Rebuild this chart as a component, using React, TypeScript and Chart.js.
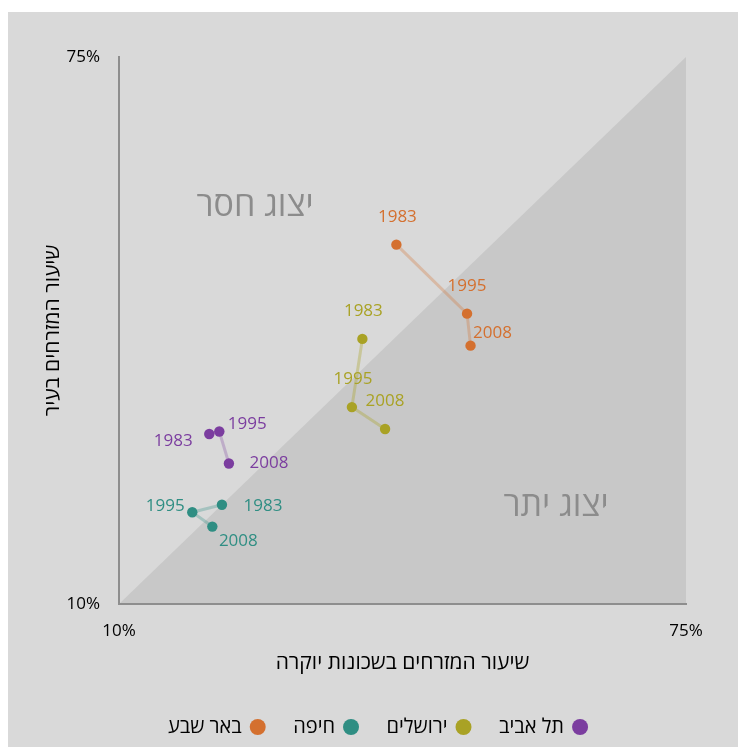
import React, { useEffect, useRef } from "react";
import { Chart, registerables } from "chart.js";

Chart.register(...registerables);

// ---------- data ----------
const years = ["1983", "1995", "2008"];
const cities = ["תל אביב", "ירושלים", "חיפה", "באר שבע"];

const telAvivX = [20.35, 21.5, 22.6];
const telAvivY = [30.2, 30.5, 26.7];
const jerusalemX = [37.9, 36.7, 40.5];
const jerusalemY = [41.5, 33.4, 30.8];
const haifaX = [21.8, 18.4, 20.7];
const haifaY = [21.8, 20.9, 19.2];
const beershevaX = [41.8, 49.9, 50.3];
const beershevaY = [52.7, 44.5, 40.7];

const axisMin = 10;
const axisMax = 75;
const tickValues = [10, 75];

const xTitle = "שיעור המזרחים בשכונות יוקרה";
const yTitle = "שיעור המזרחים בעיר";

const regionLabels = ["יצוג חסר", "יצוג יתר"];
const regionLabelX = [25.6, 60.1];
const regionLabelY = [57.3, 21.6];

// ---------- styles ----------
const cityColors = ["#7b3d9f", "#a9a225", "#2f8e83", "#d4702f"];
const cityLineColors = [
  "rgba(123,61,159,0.28)",
  "rgba(169,162,37,0.35)",
  "rgba(47,142,131,0.3)",
  "rgba(212,112,47,0.3)",
];
// year label offsets in pixels relative to each point [dx, dy]
const labelOffsets: number[][][] = [
  [[-36, 7], [28, -7], [40, 0]],
  [[1, -28], [1, -28], [0, -28]],
  [[41, 1], [-27, -6], [26, 15]],
  [[1, -28], [0, -28], [22, -12]],
];

const FONT = "'Open Sans', 'DejaVu Sans', sans-serif";

const xsList = [telAvivX, jerusalemX, haifaX, beershevaX];
const ysList = [telAvivY, jerusalemY, haifaY, beershevaY];

const bgPlugin = {
  id: "diagBg",
  beforeDraw(chart: any) {
    const { ctx, scales } = chart;
    const x = scales.x;
    const y = scales.y;
    ctx.save();
    ctx.fillStyle = "#c8c8c8";
    ctx.beginPath();
    ctx.moveTo(x.getPixelForValue(axisMin), y.getPixelForValue(axisMin));
    ctx.lineTo(x.getPixelForValue(axisMax), y.getPixelForValue(axisMax));
    ctx.lineTo(x.getPixelForValue(axisMax), y.getPixelForValue(axisMin));
    ctx.closePath();
    ctx.fill();
    ctx.fillStyle = "#8c8c8c";
    ctx.font = `34px ${FONT}`;
    ctx.textAlign = "center";
    ctx.textBaseline = "middle";
    regionLabels.forEach((t, i) => {
      ctx.fillText(t, x.getPixelForValue(regionLabelX[i]), y.getPixelForValue(regionLabelY[i]));
    });
    ctx.restore();
  },
};

const yearLabelPlugin = {
  id: "yearLabels",
  afterDatasetsDraw(chart: any) {
    const { ctx } = chart;
    ctx.save();
    ctx.font = `17px ${FONT}`;
    ctx.textAlign = "center";
    ctx.textBaseline = "middle";
    chart.data.datasets.forEach((ds: any, di: number) => {
      const meta = chart.getDatasetMeta(di);
      ctx.fillStyle = cityColors[di];
      meta.data.forEach((pt: any, pi: number) => {
        const off = labelOffsets[di][pi];
        ctx.fillText(years[pi], pt.x + off[0], pt.y + off[1]);
      });
    });
    ctx.restore();
  },
};

export default function App() {
  const ref = useRef<HTMLCanvasElement | null>(null);

  useEffect(() => {
    if (!ref.current) return;
    const datasets = cities.map((name, i) => ({
      label: name,
      data: xsList[i].map((xv, j) => ({ x: xv, y: ysList[i][j] })),
      showLine: true,
      borderColor: cityLineColors[i],
      borderWidth: 3,
      backgroundColor: cityColors[i],
      pointBackgroundColor: cityColors[i],
      pointBorderColor: cityColors[i],
      pointBorderWidth: 0,
      pointRadius: 5.2,
      pointHoverRadius: 5.2,
      tension: 0,
    }));

    const chart = new Chart(ref.current, {
      type: "scatter",
      data: { datasets },
      plugins: [bgPlugin, yearLabelPlugin],
      options: {
        animation: false,
        responsive: false,
        devicePixelRatio: 1,
        font: { family: FONT },
        layout: { padding: { top: 45, right: 0, bottom: 0, left: 8 } },
        plugins: {
          tooltip: { enabled: false },
          legend: {
            position: "bottom",
            rtl: true,
            textDirection: "rtl",
            labels: {
              usePointStyle: true,
              pointStyle: "circle",
              boxWidth: 12,
              boxHeight: 11.3,
              padding: 29.5,
              color: "#000",
              font: { size: 20, family: FONT },
            },
          },
        },
        scales: {
          x: {
            type: "linear",
            min: axisMin,
            max: axisMax,
            grid: { display: false, drawTicks: false },
            border: { display: true, color: "#8e8e8e", width: 2 },
            afterBuildTicks: (s: any) => {
              s.ticks = tickValues.map((v) => ({ value: v }));
            },
            afterFit: (s: any) => {
              s.height = 83.5;
            },
            ticks: {
              padding: 17,
              color: "#000",
              font: { size: 17, family: FONT },
              maxRotation: 0,
              callback: (v: any) => `${v}%`,
            },
            title: {
              display: true,
              text: xTitle,
              color: "#000",
              font: { size: 21, family: FONT },
              padding: { top: 0, bottom: 11.9 },
            },
          },
          y: {
            type: "linear",
            min: axisMin,
            max: axisMax,
            grid: { display: false, drawTicks: false },
            border: { display: true, color: "#8e8e8e", width: 2 },
            afterBuildTicks: (s: any) => {
              s.ticks = tickValues.map((v) => ({ value: v }));
            },
            afterFit: (s: any) => {
              s.width = 103;
            },
            ticks: {
              padding: 19,
              color: "#000",
              font: { size: 17, family: FONT },
              callback: (v: any) => `${v}%`,
            },
            title: {
              display: true,
              text: yTitle,
              color: "#000",
              font: { size: 21, family: FONT },
              padding: { top: 24, bottom: 0 },
            },
          },
          spacer: {
            type: "linear",
            position: "right",
            display: true,
            grid: { display: false, drawTicks: false },
            border: { display: false },
            ticks: { display: false },
            afterFit: (s: any) => {
              s.width = 52;
            },
          },
        },
      },
    } as any);
    return () => chart.destroy();
  }, []);

  return (
    <div
      style={{
        position: "absolute",
        left: 8,
        top: 12,
        width: 730,
        height: 735,
        background: "#d9d9d9",
      }}
    >
      <canvas ref={ref} width={730} height={735} style={{ display: "block" }} />
    </div>
  );
}
